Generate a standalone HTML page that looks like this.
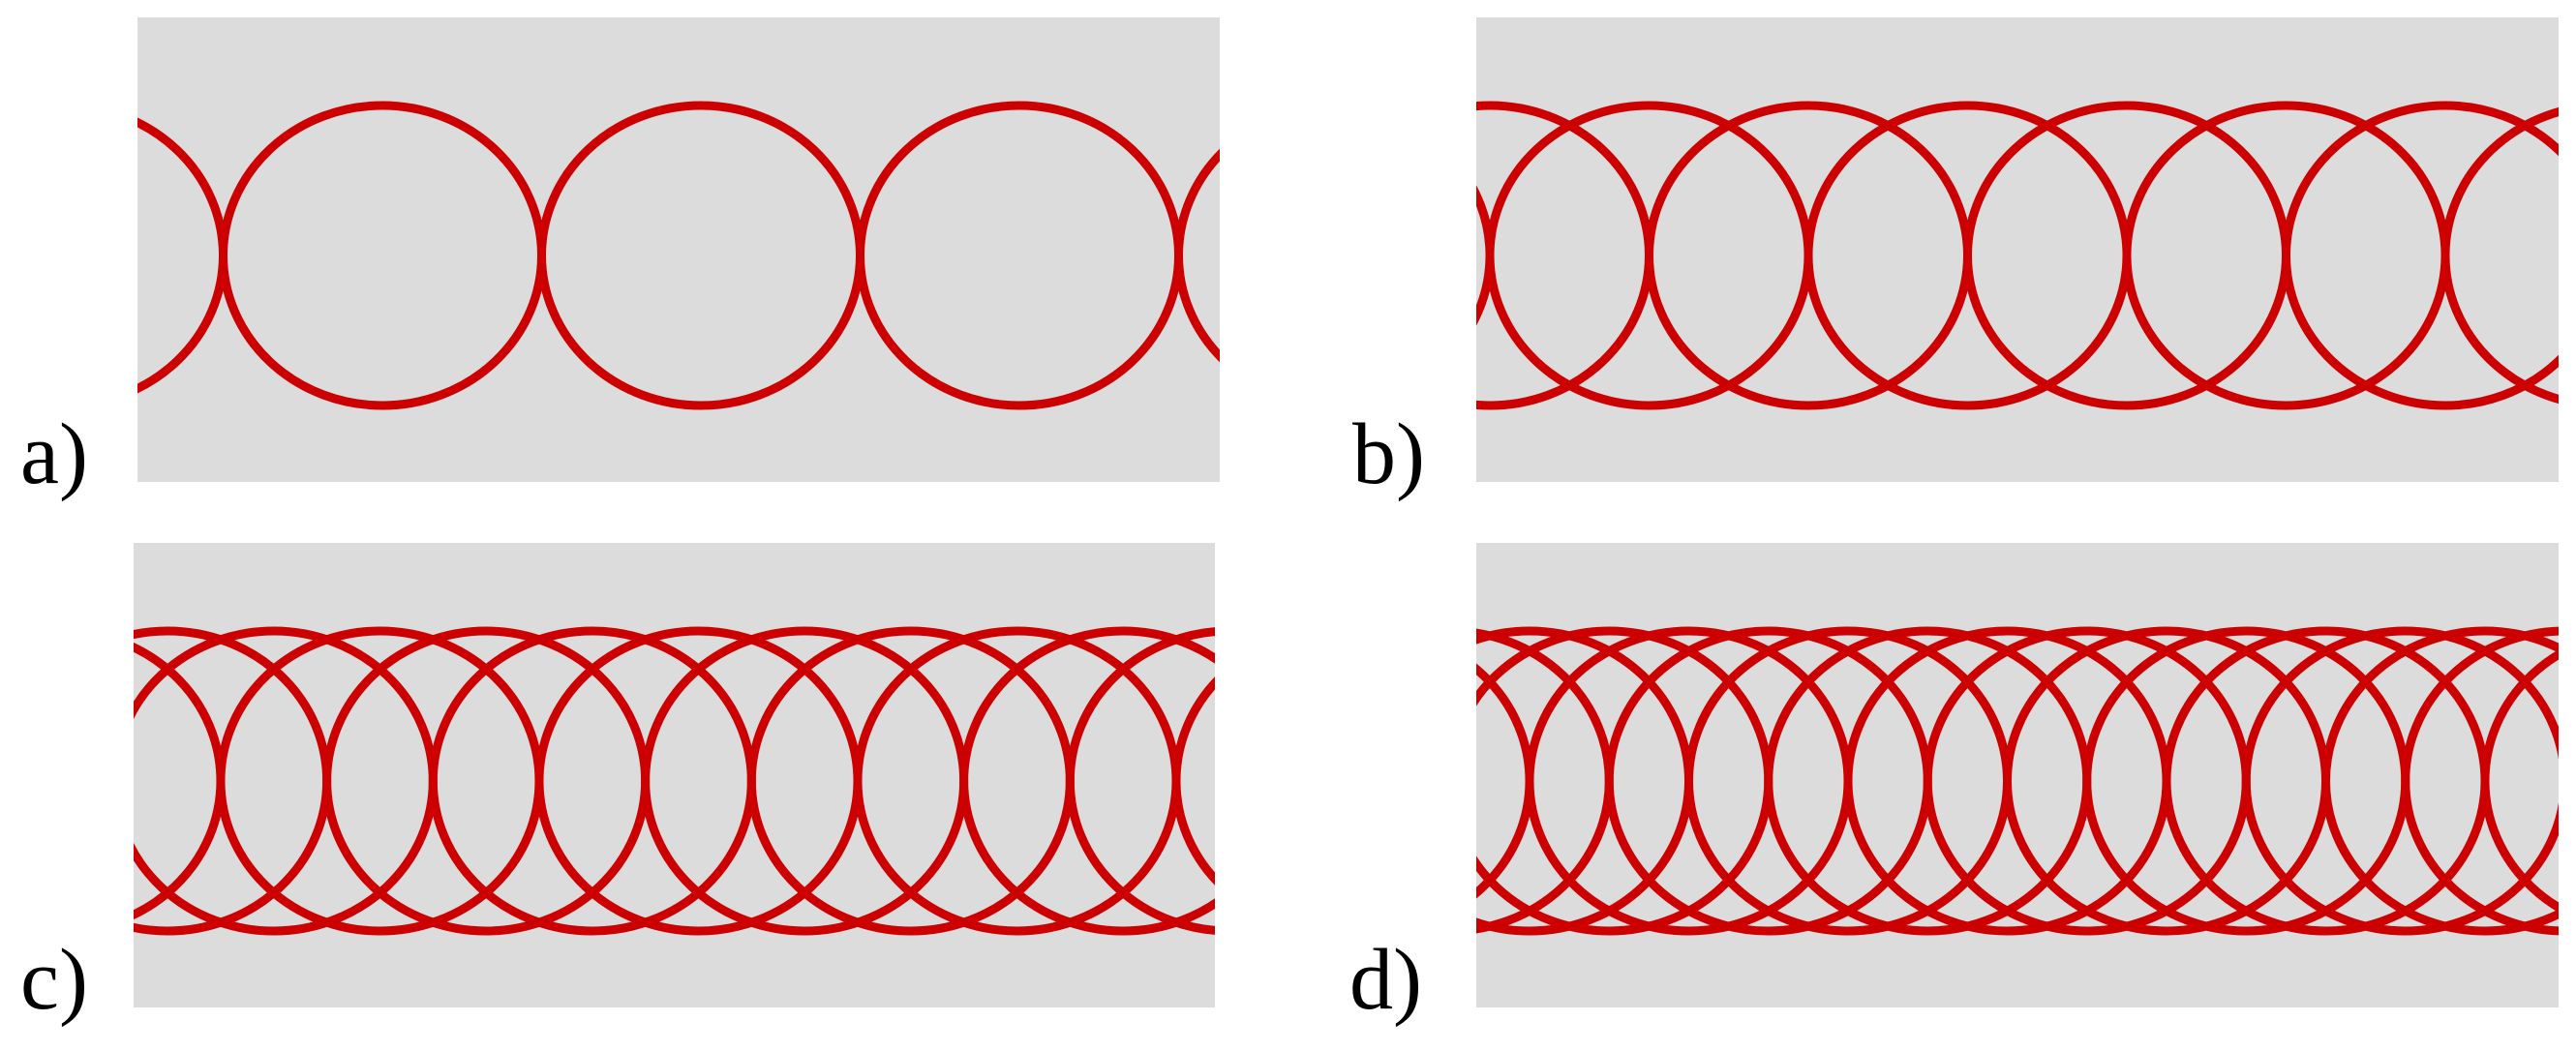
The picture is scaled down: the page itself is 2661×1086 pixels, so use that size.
<!DOCTYPE html>
<html><head><meta charset="utf-8"><style>
html,body{margin:0;padding:0;background:#fff;}
svg{display:block;}
text{font-family:"Liberation Serif",serif;font-size:90px;fill:#000;}
</style></head><body>
<svg width="2661" height="1086" viewBox="0 0 2661 1086" xmlns="http://www.w3.org/2000/svg">
<defs>
<clipPath id="ca"><rect x="142" y="18" width="1118" height="480"/></clipPath>
<clipPath id="cb"><rect x="1525" y="18" width="1118" height="480"/></clipPath>
<clipPath id="cc"><rect x="138" y="561" width="1117" height="480"/></clipPath>
<clipPath id="cd"><rect x="1525" y="561" width="1118" height="480"/></clipPath>
</defs>
<rect x="142" y="18" width="1118" height="480" fill="#dcdcdc"/>
<rect x="1525" y="18" width="1118" height="480" fill="#dcdcdc"/>
<rect x="138" y="561" width="1117" height="480" fill="#dcdcdc"/>
<rect x="1525" y="561" width="1118" height="480" fill="#dcdcdc"/>
<g id="ga" clip-path="url(#ca)" fill="none" stroke="#cc0000" stroke-width="9"></g>
<g id="gb" clip-path="url(#cb)" fill="none" stroke="#cc0000" stroke-width="9"></g>
<g id="gc" clip-path="url(#cc)" fill="none" stroke="#cc0000" stroke-width="9"></g>
<g id="gd" clip-path="url(#cd)" fill="none" stroke="#cc0000" stroke-width="9"></g>
<text x="21" y="499">a)</text>
<text x="1397" y="499">b)</text>
<text x="21" y="1042">c)</text>
<text x="1394" y="1042">d)</text>
</svg>
<script>
(function(){
  var NS="http://www.w3.org/2000/svg";
  function fill(id,x0,step,cy,xmin,xmax){
    var g=document.getElementById(id);
    var start=x0-Math.ceil((x0-xmin+170)/step)*step;
    for(var x=start;x<xmax+170;x+=step){
      var e=document.createElementNS(NS,"ellipse");
      e.setAttribute("cx",x.toFixed(2));e.setAttribute("cy",cy);
      e.setAttribute("rx","164.5");e.setAttribute("ry","155");
      g.appendChild(e);
    }
  }
  fill("ga",395,329,264,142,1260);
  fill("gb",1703.5,164.5,264,1525,2643);
  fill("gc",282.8,109.67,807,138,1255);
  fill("gd",1580,82.25,807,1525,2643);
})();
</script>
</body></html>
